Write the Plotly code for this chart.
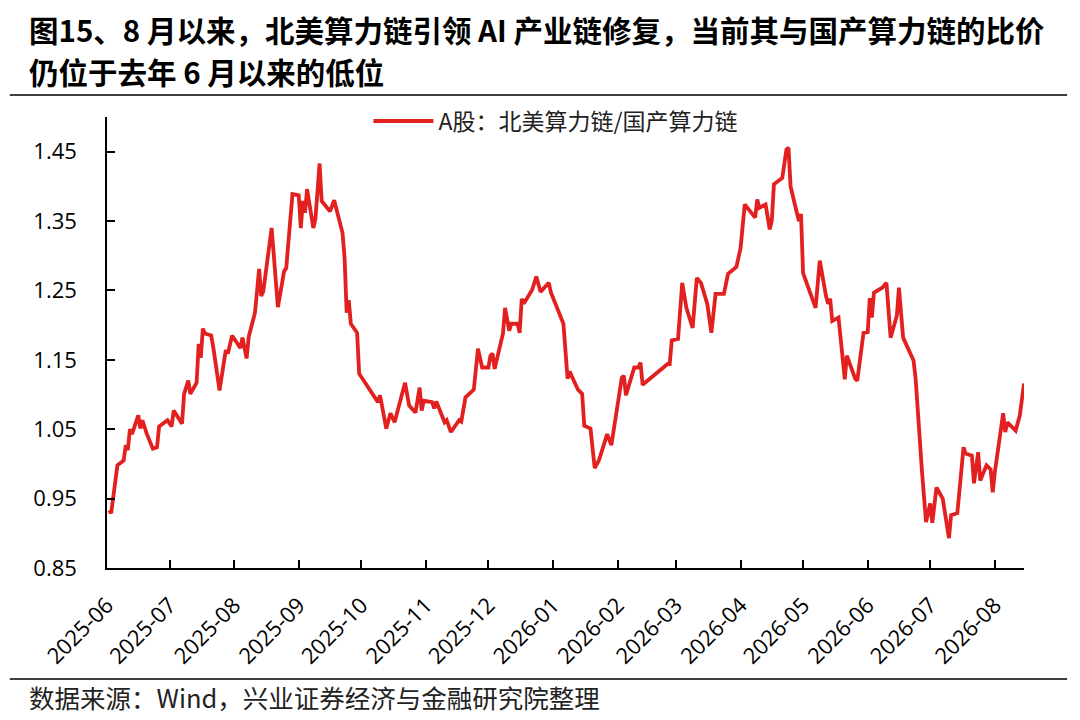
import pandas as pd
import plotly.graph_objs as go

# A股：北美算力链/国产算力链 比价
dates = [
    "2025-06-02", "2025-06-03", "2025-06-06", "2025-06-09", "2025-06-10", "2025-06-11",
    "2025-06-12", "2025-06-13", "2025-06-16", "2025-06-17", "2025-06-18", "2025-06-20",
    "2025-06-23", "2025-06-25", "2025-06-26", "2025-06-30", "2025-07-02", "2025-07-03",
    "2025-07-07", "2025-07-08", "2025-07-10", "2025-07-11", "2025-07-14", "2025-07-15",
    "2025-07-16", "2025-07-17", "2025-07-18", "2025-07-21", "2025-07-22", "2025-07-25",
    "2025-07-28", "2025-07-29", "2025-07-31", "2025-08-04", "2025-08-05", "2025-08-07",
    "2025-08-08", "2025-08-11", "2025-08-13", "2025-08-14", "2025-08-15", "2025-08-19",
    "2025-08-22", "2025-08-25", "2025-08-26", "2025-08-29", "2025-09-01", "2025-09-02",
    "2025-09-03", "2025-09-04", "2025-09-05", "2025-09-08", "2025-09-09", "2025-09-11",
    "2025-09-12", "2025-09-15", "2025-09-16", "2025-09-18", "2025-09-22", "2025-09-23",
    "2025-09-24", "2025-09-25", "2025-09-26", "2025-09-29", "2025-09-30", "2025-10-09",
    "2025-10-10", "2025-10-13", "2025-10-15", "2025-10-17", "2025-10-22", "2025-10-24",
    "2025-10-27", "2025-10-29", "2025-10-30", "2025-10-31", "2025-11-04", "2025-11-05",
    "2025-11-06", "2025-11-10", "2025-11-11", "2025-11-13", "2025-11-17", "2025-11-18",
    "2025-11-20", "2025-11-24", "2025-11-26", "2025-11-28", "2025-12-01", "2025-12-02",
    "2025-12-03", "2025-12-04", "2025-12-08", "2025-12-09", "2025-12-11", "2025-12-12",
    "2025-12-15", "2025-12-16", "2025-12-17", "2025-12-18", "2025-12-22", "2025-12-24",
    "2025-12-26", "2025-12-30", "2025-12-31", "2026-01-06", "2026-01-08", "2026-01-09",
    "2026-01-13", "2026-01-15", "2026-01-16", "2026-01-19", "2026-01-21", "2026-01-23",
    "2026-01-27", "2026-01-29", "2026-02-03", "2026-02-04", "2026-02-05", "2026-02-09",
    "2026-02-11", "2026-02-12", "2026-02-13", "2026-02-25", "2026-02-26", "2026-02-27",
    "2026-03-02", "2026-03-04", "2026-03-06", "2026-03-09", "2026-03-11", "2026-03-13",
    "2026-03-16", "2026-03-18", "2026-03-20", "2026-03-24", "2026-03-26", "2026-03-30",
    "2026-04-01", "2026-04-03", "2026-04-08", "2026-04-09", "2026-04-10", "2026-04-13",
    "2026-04-15", "2026-04-16", "2026-04-17", "2026-04-21", "2026-04-23", "2026-04-24",
    "2026-04-25", "2026-04-28", "2026-04-29", "2026-04-30", "2026-05-01", "2026-05-07",
    "2026-05-09", "2026-05-12", "2026-05-13", "2026-05-14", "2026-05-15", "2026-05-18",
    "2026-05-21", "2026-05-22", "2026-05-26", "2026-05-27", "2026-05-30", "2026-06-01",
    "2026-06-02", "2026-06-03", "2026-06-04", "2026-06-08", "2026-06-10", "2026-06-12",
    "2026-06-15", "2026-06-16", "2026-06-18", "2026-06-23", "2026-06-24", "2026-06-27",
    "2026-06-29", "2026-07-01", "2026-07-02", "2026-07-04", "2026-07-07", "2026-07-10",
    "2026-07-11", "2026-07-14", "2026-07-17", "2026-07-18", "2026-07-21", "2026-07-22",
    "2026-07-24", "2026-07-25", "2026-07-28", "2026-07-30", "2026-07-31", "2026-08-01",
    "2026-08-05", "2026-08-06", "2026-08-07", "2026-08-11", "2026-08-13", "2026-08-15",
]
ratio = [
    0.933, 0.929, 0.998, 1.005, 1.027, 1.020,
    1.050, 1.043, 1.070, 1.051, 1.063, 1.044,
    1.022, 1.024, 1.054, 1.063, 1.054, 1.077,
    1.058, 1.101, 1.120, 1.101, 1.117, 1.173,
    1.153, 1.195, 1.188, 1.185, 1.168, 1.106,
    1.164, 1.159, 1.185, 1.167, 1.182, 1.152,
    1.183, 1.218, 1.281, 1.242, 1.249, 1.340,
    1.226, 1.278, 1.282, 1.389, 1.387, 1.340,
    1.379, 1.362, 1.396, 1.340, 1.353, 1.433,
    1.379, 1.367, 1.364, 1.380, 1.333, 1.297,
    1.218, 1.236, 1.202, 1.189, 1.130, 1.089,
    1.099, 1.051, 1.073, 1.060, 1.117, 1.084,
    1.074, 1.110, 1.077, 1.091, 1.089, 1.080,
    1.090, 1.060, 1.063, 1.046, 1.063, 1.061,
    1.096, 1.107, 1.166, 1.139, 1.139, 1.156,
    1.159, 1.137, 1.188, 1.225, 1.192, 1.202,
    1.202, 1.189, 1.238, 1.231, 1.251, 1.270,
    1.248, 1.261, 1.247, 1.202, 1.123, 1.133,
    1.107, 1.101, 1.055, 1.051, 0.994, 1.005,
    1.043, 1.027, 1.124, 1.127, 1.099, 1.139,
    1.139, 1.146, 1.114, 1.144, 1.144, 1.178,
    1.180, 1.261, 1.225, 1.196, 1.268, 1.261,
    1.231, 1.189, 1.245, 1.245, 1.274, 1.284,
    1.311, 1.374, 1.355, 1.381, 1.369, 1.374,
    1.338, 1.351, 1.403, 1.412, 1.453, 1.456,
    1.400, 1.362, 1.350, 1.360, 1.275, 1.225,
    1.293, 1.242, 1.231, 1.238, 1.206, 1.211,
    1.122, 1.156, 1.123, 1.120, 1.189, 1.190,
    1.239, 1.211, 1.247, 1.254, 1.261, 1.182,
    1.214, 1.254, 1.182, 1.149, 1.123, 0.991,
    0.916, 0.943, 0.915, 0.966, 0.950, 0.893,
    0.926, 0.929, 1.024, 1.015, 1.012, 0.972,
    1.017, 0.976, 0.998, 0.992, 0.959, 0.988,
    1.073, 1.046, 1.060, 1.048, 1.070, 1.116,
]

month_ticks = pd.date_range("2025-06-01", "2026-08-01", freq="MS")
month_labels = [d.strftime("%Y-%m") for d in month_ticks]
y_ticks = [0.85, 0.95, 1.05, 1.15, 1.25, 1.35, 1.45]

cjk = "Noto Sans CJK SC"
num_font = "Open Sans, Noto Sans CJK SC"

trace = go.Scatter(
    x=pd.to_datetime(dates),
    y=ratio,
    mode="lines",
    name="A股：北美算力链/国产算力链",
    line=dict(color="#E2201F", width=3.8),
)

# page body has an 8px margin, so the figure is a bit smaller than the window
layout = go.Layout(
    width=1072,
    height=712,
    paper_bgcolor="white",
    plot_bgcolor="white",
    margin=dict(l=99, r=56, t=109, b=152),
    showlegend=True,
    legend=dict(
        orientation="h",
        x=0.489, xanchor="center",
        y=0.991, yanchor="middle",
        itemwidth=60,
        font=dict(family=cjk, size=23, color="#222222"),
        bgcolor="rgba(0,0,0,0)",
    ),
    xaxis=dict(
        range=["2025-06-01", "2026-08-15"],
        tickmode="array",
        tickvals=month_ticks,
        ticktext=month_labels,
        tickangle=-45,
        ticks="inside",
        ticklen=8,
        tickwidth=1.5,
        tickcolor="black",
        showline=True,
        linecolor="black",
        linewidth=1.5,
        showgrid=False,
        zeroline=False,
        ticklabelstandoff=14,
        tickfont=dict(family=num_font, size=22, color="black"),
    ),
    yaxis=dict(
        range=[0.85, 1.5],
        tickmode="array",
        tickvals=y_ticks,
        ticktext=["%.2f" % v for v in y_ticks],
        ticks="inside",
        ticklen=8,
        tickwidth=1.5,
        tickcolor="black",
        showline=True,
        linecolor="black",
        linewidth=1.5,
        showgrid=False,
        zeroline=False,
        ticklabelstandoff=24,
        tickfont=dict(family=num_font, size=22, color="black"),
    ),
    shapes=[
        dict(type="line", xref="paper", yref="paper",
             x0=-0.106, x1=1.047, y0=1.049, y1=1.049,
             line=dict(color="black", width=1.5)),
        dict(type="line", xref="paper", yref="paper",
             x0=-0.106, x1=1.047, y0=-0.246, y1=-0.246,
             line=dict(color="black", width=1.5)),
    ],
    annotations=[
        dict(text="图15、8 月以来，北美算力链引领 AI 产业链修复，当前其与国产算力链的比价",
             xref="paper", yref="paper", x=-0.087, y=1.195,
             xanchor="left", yanchor="middle", showarrow=False,
             font=dict(family=cjk, size=29.5, color="black", weight=700)),
        dict(text="仍位于去年 6 月以来的低位",
             xref="paper", yref="paper", x=-0.087, y=1.102,
             xanchor="left", yanchor="middle", showarrow=False,
             font=dict(family=cjk, size=29.5, color="black", weight=700)),
        dict(text="数据来源：Wind，兴业证券经济与金融研究院整理",
             xref="paper", yref="paper", x=-0.087, y=-0.284,
             xanchor="left", yanchor="middle", showarrow=False,
             font=dict(family=cjk, size=25.5, color="#222222")),
    ],
)

fig = go.Figure(data=[trace], layout=layout)
fig.write_html("out.html")
